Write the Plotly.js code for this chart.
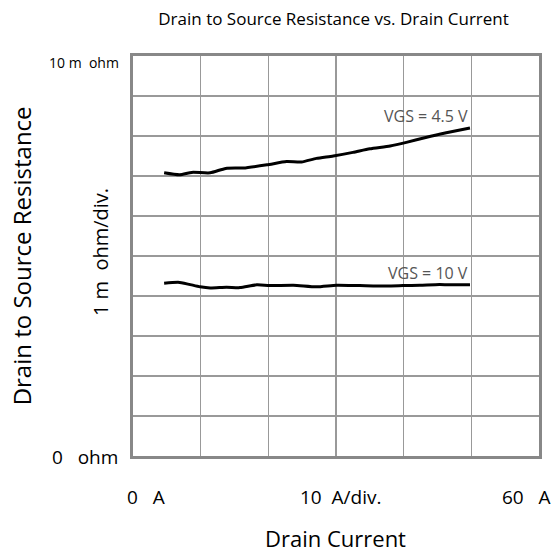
<!DOCTYPE html>
<html>
<head>
<meta charset="utf-8">
<script src="https://cdn.plot.ly/plotly-3.0.1.min.js"></script>
<style>html,body{margin:0;padding:0;background:#fff;}#chart{width:555px;height:553px;}</style>
</head>
<body>
<div id="chart"></div>
<script>
// Drain current (A) and resistance (m ohm)
const current45 = [4.6, 6.9, 8.7, 11.4, 13.7, 16.3, 19.8, 22.7, 24.9, 27.1, 29.6, 32.5, 35.0, 38.0, 40.4, 43.4, 46.3, 49.8];
const rds45 = [7.08, 7.03, 7.09, 7.08, 7.19, 7.20, 7.28, 7.36, 7.35, 7.44, 7.50, 7.59, 7.68, 7.75, 7.84, 7.97, 8.08, 8.20];
const current10 = [4.6, 6.9, 9.9, 11.4, 13.8, 15.8, 18.3, 20.2, 23.7, 27.1, 30.1, 33.5, 37.5, 39.9, 42.4, 45.3, 47.3, 49.8];
const rds10 = [4.32, 4.34, 4.23, 4.20, 4.22, 4.21, 4.28, 4.26, 4.27, 4.23, 4.27, 4.26, 4.25, 4.26, 4.27, 4.29, 4.28, 4.28];
const seriesNames = ["VGS = 4.5 V", "VGS = 10 V"];
const xTickLabels = ["0   A", "10  A/div.", "60   A"];
const yTickLabels = ["10 m  ohm", "1 m  ohm/div.", "0   ohm"];

const font = "Open Sans, Noto Sans, sans-serif";
const traces = [
  {x: current45, y: rds45, name: seriesNames[0], mode: "lines", line: {color: "#000", width: 3, shape: "spline", smoothing: 0.6}},
  {x: current10, y: rds10, name: seriesNames[1], mode: "lines", line: {color: "#000", width: 3, shape: "spline", smoothing: 0.6}}
];
const ann = [
  {text: seriesNames[0], xref: "x", yref: "y", x: current45[current45.length-1], y: rds45[rds45.length-1], xanchor: "right", yanchor: "bottom", yshift: -1, showarrow: false, font: {family: font, size: 16, color: "#555"}},
  {text: seriesNames[1], xref: "x", yref: "y", x: current10[current10.length-1], y: rds10[rds10.length-1], xanchor: "right", yanchor: "bottom", yshift: -1, showarrow: false, font: {family: font, size: 16, color: "#555"}},
  {text: xTickLabels[0], xref: "paper", yref: "paper", x: 0.033, y: -0.1025, xanchor: "center", yanchor: "middle", showarrow: false, font: {family: font, size: 19, color: "#000"}},
  {text: xTickLabels[1], xref: "paper", yref: "paper", x: 0.51, y: -0.1025, xanchor: "center", yanchor: "middle", showarrow: false, font: {family: font, size: 19, color: "#000"}},
  {text: xTickLabels[2], xref: "paper", yref: "paper", x: 0.969, y: -0.1025, xanchor: "center", yanchor: "middle", showarrow: false, font: {family: font, size: 19, color: "#000"}},
  {text: yTickLabels[0], xref: "paper", yref: "paper", x: -0.03, y: 0.983, xanchor: "right", yanchor: "middle", showarrow: false, font: {family: font, size: 14, color: "#000"}},
  {text: yTickLabels[1], xref: "paper", yref: "paper", x: -0.081, y: 0.51, xanchor: "center", yanchor: "middle", textangle: -90, showarrow: false, font: {family: font, size: 20, color: "#000"}},
  {text: yTickLabels[2], xref: "paper", yref: "paper", x: -0.033, y: -0.0025, xanchor: "right", yanchor: "middle", showarrow: false, font: {family: font, size: 19, color: "#000"}},
  {text: "Drain to Source Resistance", xref: "paper", yref: "paper", x: -0.275, y: 0.5, xanchor: "center", yanchor: "middle", textangle: -90, showarrow: false, font: {family: font, size: 24, color: "#000"}},
  {text: "Drain Current", xref: "paper", yref: "paper", x: 0.499, y: -0.205, xanchor: "center", yanchor: "middle", borderpad: 0, showarrow: false, font: {family: font, size: 22, color: "#000"}}
];
const axisCommon = {showgrid: true, gridcolor: "#999", gridwidth: 1.5, zeroline: false, showticklabels: false, ticks: "", showline: true, mirror: true, linecolor: "#888", linewidth: 3, fixedrange: true};
const layout = {
  width: 555, height: 553,
  margin: {l: 133, r: 16, t: 56, b: 97},
  paper_bgcolor: "#fff", plot_bgcolor: "#fff",
  showlegend: false,
  title: {text: "Drain to Source Resistance vs. Drain Current", x: 0.601, xanchor: "center", y: 0.966, yanchor: "middle", font: {family: font, size: 17, color: "#000"}},
  xaxis: Object.assign({range: [0, 60], dtick: 10, tick0: 0}, axisCommon),
  yaxis: Object.assign({range: [0, 10], dtick: 1, tick0: 0}, axisCommon),
  annotations: ann
};
Plotly.newPlot("chart", traces, layout, {displayModeBar: false, staticPlot: true});
</script>
</body>
</html>
